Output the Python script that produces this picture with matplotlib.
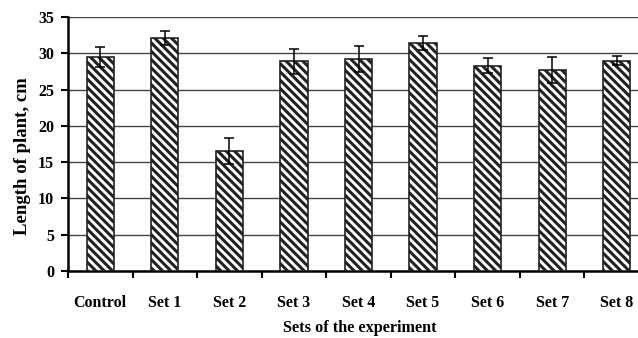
import numpy as np
import matplotlib
matplotlib.use("Agg")
import matplotlib.pyplot as plt

# values
sets = ["Control", "Set 1", "Set 2", "Set 3", "Set 4", "Set 5", "Set 6", "Set 7", "Set 8"]
length = [29.5, 32.1, 16.5, 28.9, 29.2, 31.4, 28.3, 27.7, 29.0]
err = [1.4, 1.0, 1.8, 1.7, 1.8, 1.0, 1.0, 1.8, 0.6]

plt.rcParams['font.family'] = ['Liberation Serif', 'DejaVu Serif']
plt.rcParams['font.weight'] = 'bold'
plt.rcParams['hatch.linewidth'] = 2.2
plt.rcParams['hatch.color'] = 'black'

fig = plt.figure(figsize=(6.38, 3.38), dpi=100)
ax = fig.add_axes([68/638, 67/338, 581/638, 254/338])

x = np.arange(len(sets))
ax.bar(x, length, width=0.42, color='white', edgecolor='#222222', linewidth=1.2,
       hatch='\\\\\\\\', zorder=3)
ax.errorbar(x, length, yerr=err, fmt='none', ecolor='black', elinewidth=1.1,
            capsize=3.5, capthick=1.1, zorder=4)

ax.set_xlim(-0.5, 8.5)
ax.set_ylim(0, 35)
ax.set_yticks(np.arange(0, 36, 5))
ax.yaxis.grid(True, color='#444444', linewidth=1.0, zorder=0)
ax.set_axisbelow(True)

ax.set_xticks(x)
ax.set_xticklabels(sets, fontsize=11.5, fontweight='bold')
ax.set_xticks(np.arange(-0.5, 9, 1), minor=True)
ax.tick_params(axis='x', which='major', length=0, pad=17)
ax.tick_params(axis='x', which='minor', length=5, width=1.5, direction='out')
ax.tick_params(axis='y', length=5, width=1.5, direction='out', pad=5, labelsize=11.5)
for lab in ax.get_yticklabels():
    lab.set_fontweight('bold')

for s in ['top', 'right']:
    ax.spines[s].set_visible(False)
ax.spines['left'].set_linewidth(1.8)
ax.spines['bottom'].set_linewidth(1.8)

fig.text(23/638, 1 - 156/338, "Length of plant, cm", rotation=90, ha='center', va='center',
         fontsize=13.5, fontweight='bold')
fig.text(360/638, 1 - 328/338, "Sets of the experiment", ha='center', va='center',
         fontsize=11.7, fontweight='bold')

fig.savefig("out.png", dpi=100)
